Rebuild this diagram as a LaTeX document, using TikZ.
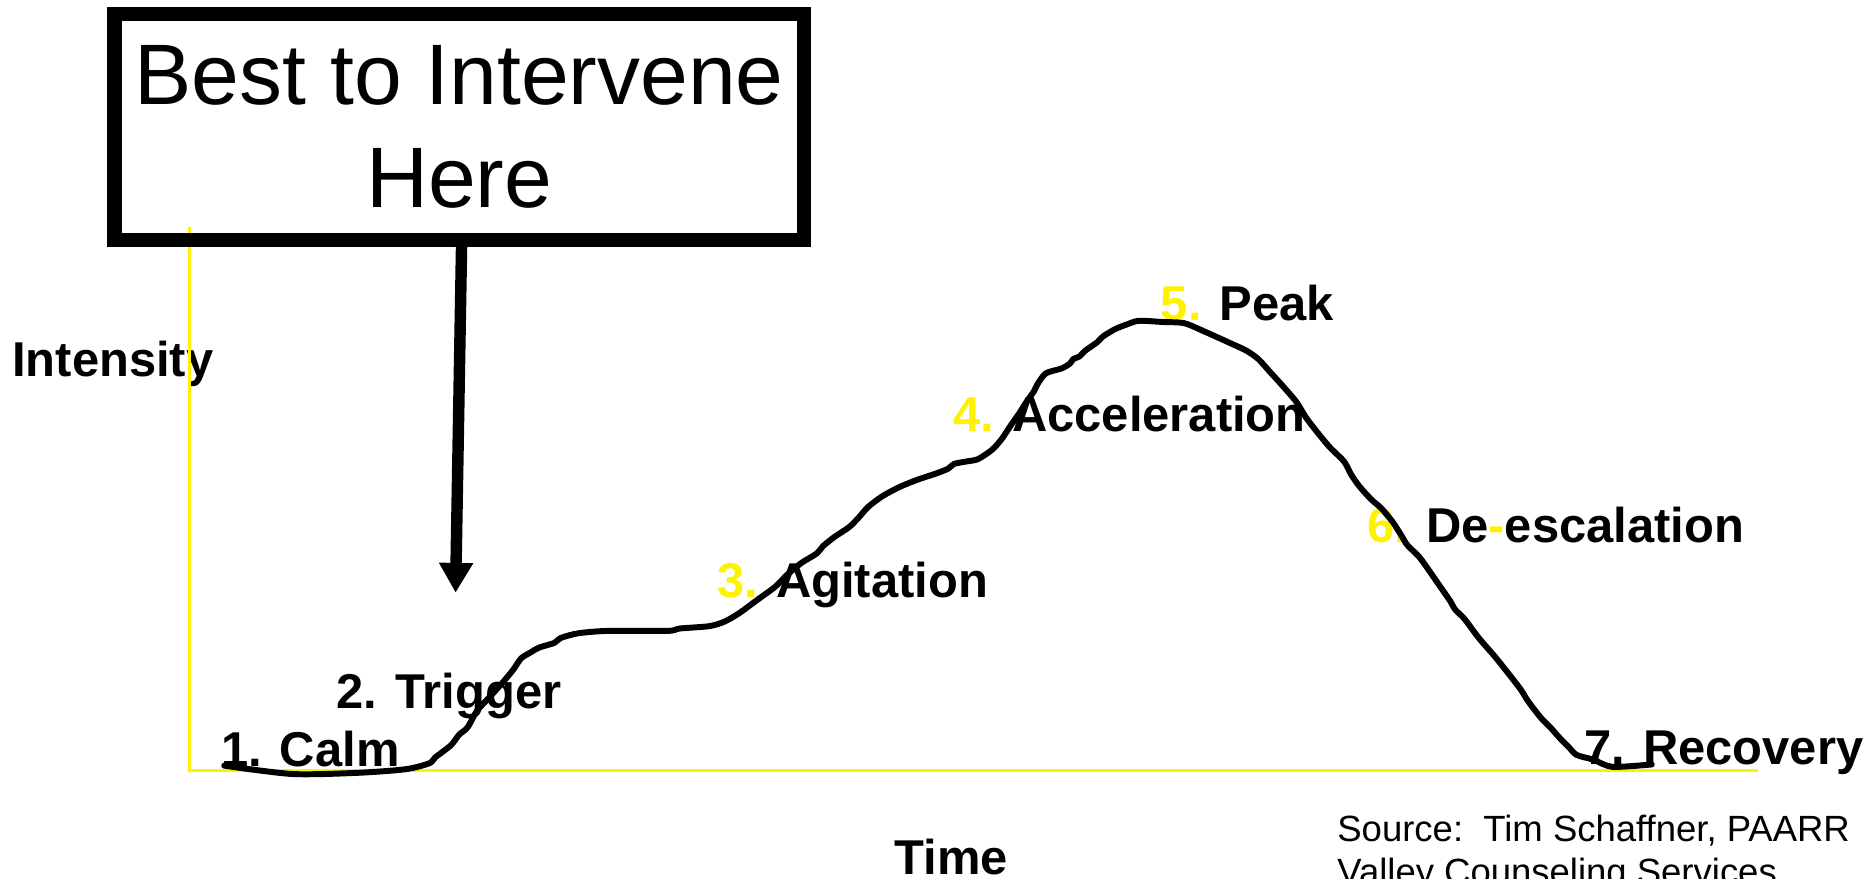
\documentclass[tikz,border=0pt]{standalone}
\usepackage{fontspec}
\setmainfont{Liberation Sans}
\usetikzlibrary{arrows.meta}
\begin{document}
\begin{tikzpicture}[x=0.5pt,y=-0.5pt,
  lbl/.style={anchor=base west, inner sep=0pt, font=\bfseries\fontsize{20.5}{24}\selectfont},
  note/.style={anchor=base west, inner sep=0pt, font=\fontsize{15.3}{18}\selectfont},
  axisline/.style={yellow, line width=1pt},
  curve/.style={line width=2.5pt, line join=round, line cap=round},
  callout/.style={draw, line width=6pt, minimum width=289pt, minimum height=94.5pt,
    inner sep=0pt, align=center, font=\fontsize{36}{43}\selectfont},
  pointer/.style={line width=4.8pt, -{Triangle[width=13.5pt,length=12.5pt]}}
]
\useasboundingbox (0,0) rectangle (1568,737);
\fill[white] (0,0) rectangle (1568,737);

% stage labels
\node[lbl] (intensity) at (10,316) {Intensity};
\node[lbl] (calm) at (185,643) {1. Calm};
\node[lbl] (trigger) at (282,594) {2. Trigger};
\node[lbl] (agitation) at (601,501) {\textcolor{yellow}{3.} Agitation};
\node[lbl] (accel) at (799,362) {\textcolor{yellow}{4.} Acceleration};
\node[lbl] (peak) at (973,269) {\textcolor{yellow}{5.} Peak};
\node[lbl] (deesc) at (1146,455) {\textcolor{yellow}{6.} De\textcolor{yellow}{-}escalation};
\node[lbl] (recovery) at (1328,641) {7. Recovery};
\node[lbl] (time) at (750,733) {Time};
\node[note] (src1) at (1121,706) {Source:\ \ Tim Schaffner, PAARR};
\node[note] (src2) at (1121,742) {Valley Counseling Services};

% axes
\coordinate (origin) at (159,646);
\coordinate (ytop) at (159,190);
\coordinate (xend) at (1474,646);
\draw[axisline] (ytop) -- (origin) -- (xend);

% callout box and its pointer
\node[callout] (box) at (385,106.5) {Best to Intervene\\Here};
\coordinate (tip) at (382,497);
\draw[pointer] ([xshift=1pt]box.south) -- (tip);

% escalation curve
\draw[curve] plot[smooth, tension=0.45] coordinates {
 (188,642) (245,649) (300,648) (340,645) (360,640) (365,635) (378,625)
 (385,616) (392,610) (400,596) (410,585) (420,574) (430,562) (437,552)
 (445,547) (452,543) (465,539) (470,535) (485,531) (510,529) (560,529)
 (570,527) (595,525) (608,521) (620,514) (635,503) (650,492) (660,482)
 (672,472) (685,464) (690,458) (700,450) (712,442) (720,434) (728,425)
 (740,416) (755,408) (770,402) (785,397) (795,393) (800,389) (810,387)
 (820,385) (832,377) (840,368) (848,356) (855,346) (860,338) (867,328)
 (870,322) (877,313) (890,309) (897,305) (900,301) (905,299) (910,294)
 (920,287) (925,282) (935,276) (945,272) (955,269) (975,270) (993,271)
 (1010,278) (1030,287) (1045,294) (1055,301) (1065,312) (1075,323)
 (1087,337) (1095,350) (1105,363) (1115,375) (1127,387) (1133,398)
 (1140,408) (1150,419) (1158,426) (1168,438) (1175,449) (1180,457)
 (1190,467) (1198,478) (1207,491) (1216,504) (1220,511) (1228,519)
 (1240,535) (1253,550) (1265,565) (1275,578) (1280,586) (1285,593)
 (1293,603) (1300,610) (1308,619) (1315,626) (1322,633) (1336,637)
 (1352,643) (1385,641)};
\end{tikzpicture}
\end{document}
